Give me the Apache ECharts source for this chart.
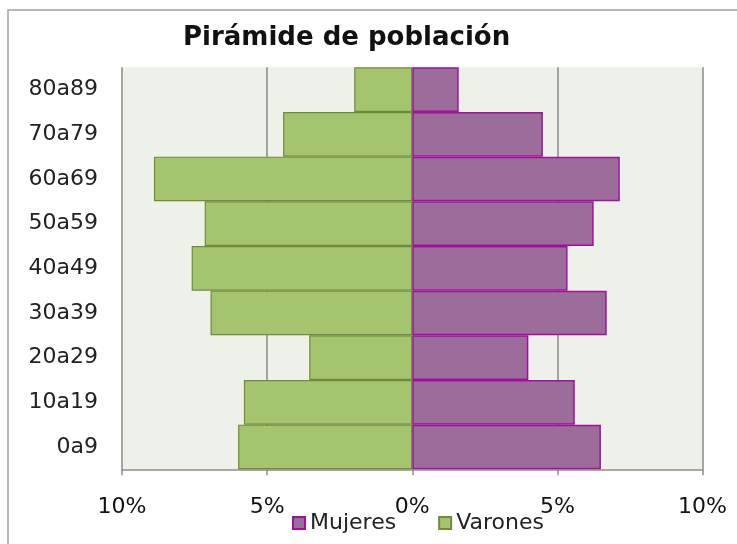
<!DOCTYPE html>
<html>
<head>
<meta charset="utf-8">
<script src="https://cdn.jsdelivr.net/npm/echarts@6/dist/echarts.min.js"></script>
<style>
  html, body { margin: 0; padding: 0; background: #fff; }
  #main { width: 737px; height: 544px; }
</style>
</head>
<body>
<div id="main"></div>
<script>
// grupos de edad (de abajo hacia arriba)
var grupos = ['0a9', '10a19', '20a29', '30a39', '40a49', '50a59', '60a69', '70a79', '80a89'];
// porcentajes
var mujeres = [6.5, 5.6, 4.0, 6.7, 5.35, 6.25, 7.15, 4.5, 1.6];
var varones = [6.0, 5.8, 3.55, 6.95, 7.6, 7.15, 8.9, 4.45, 2.0];
var ticksX = [-10, -5, 0, 5, 10];

var myChart = echarts.init(document.getElementById('main'));
var fuente = 'DejaVu Sans';

var option = {
    backgroundColor: '#fff',
    animation: false,
    graphic: [{
        type: 'rect',
        shape: { x: 8, y: 10, width: 760, height: 560 },
        style: { fill: 'none', stroke: '#a0a0a0', lineWidth: 1.5 }
    }],
    title: {
        text: 'Pirámide de población',
        left: 178,
        top: 20,
        textStyle: { fontFamily: fuente, fontSize: 26, fontWeight: 'bold', color: '#111' }
    },
    legend: {
        data: ['Mujeres', 'Varones'],
        left: 287,
        top: 507,
        itemWidth: 12,
        itemHeight: 12,
        itemGap: 42,
        icon: 'rect',
        textStyle: { fontFamily: fuente, fontSize: 22, color: '#222' }
    },
    grid: {
        left: 122,
        right: 34.5,
        top: 67.3,
        bottom: 74.7,
        show: true,
        backgroundColor: '#eef1e9',
        borderWidth: 0
    },
    xAxis: {
        type: 'value',
        min: ticksX[0],
        max: ticksX[ticksX.length - 1],
        interval: 5,
        axisLine: { show: true, lineStyle: { color: '#8a8a8a', width: 1.5 } },
        axisTick: { show: true, length: 6, lineStyle: { color: '#8a8a8a', width: 1.5 } },
        splitLine: { show: true, lineStyle: { color: '#8a8a8a', width: 1.5 } },
        axisLabel: {
            margin: 27,
            fontFamily: fuente,
            fontSize: 22,
            color: '#111',
            formatter: function (v) { return Math.abs(v) + '%'; }
        }
    },
    yAxis: {
        type: 'category',
        data: grupos,
        axisLine: { show: false },
        axisTick: { show: false },
        axisLabel: { margin: 24, fontFamily: fuente, fontSize: 22, color: '#222' }
    },
    series: [
        {
            name: 'Mujeres',
            type: 'bar',
            stack: 'total',
            barCategoryGap: 0,
            data: mujeres,
            itemStyle: { color: '#9c6d9b', borderColor: '#a0109f', borderWidth: 1.5 }
        },
        {
            name: 'Varones',
            type: 'bar',
            stack: 'total',
            barCategoryGap: 0,
            data: varones.map(function (v) { return -v; }),
            itemStyle: { color: '#a5c46e', borderColor: '#6f8c3c', borderWidth: 1.2 }
        }
    ]
};

myChart.setOption(option);
</script>
</body>
</html>
